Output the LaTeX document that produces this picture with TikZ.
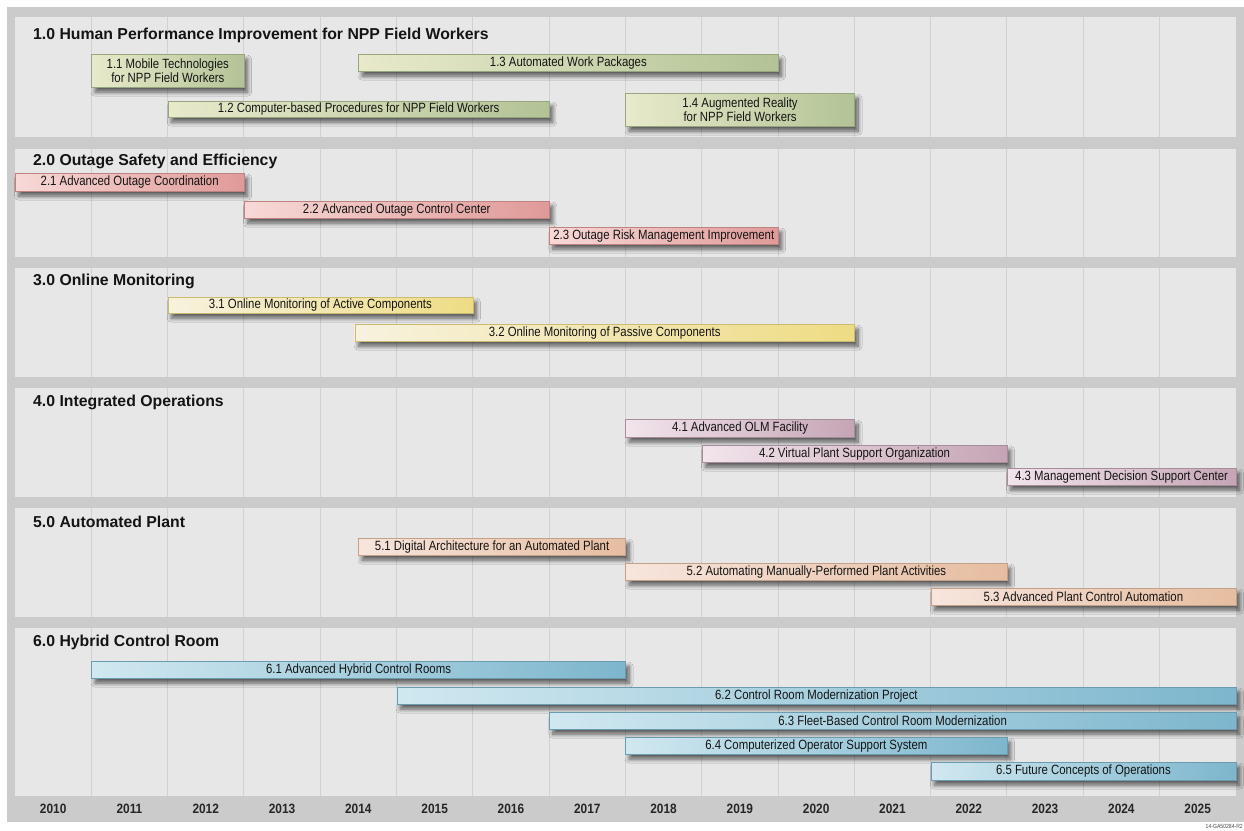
\documentclass[tikz,border=0pt]{standalone}
\usepackage{fontspec}
\setmainfont{Liberation Sans}
\newfontfamily\narrowf[FakeStretch=0.85]{Liberation Sans}
\newfontfamily\narrowbf[FakeStretch=0.88]{Liberation Sans Bold}
\usetikzlibrary{shadows.blur}
\definecolor{outergray}{HTML}{CBCBCB}
\definecolor{panelgray}{HTML}{E7E7E7}
\definecolor{gridgray}{HTML}{D1D1D1}
\definecolor{gL}{HTML}{E8EACB}
\definecolor{gR}{HTML}{B3C396}
\definecolor{pL}{HTML}{F7D9D7}
\definecolor{pR}{HTML}{DF9A98}
\definecolor{yL}{HTML}{F7F2DF}
\definecolor{yR}{HTML}{EEDC84}
\definecolor{vL}{HTML}{F2E4EC}
\definecolor{vR}{HTML}{C5A5B5}
\definecolor{oL}{HTML}{F7E5DD}
\definecolor{oR}{HTML}{E6BDA0}
\definecolor{bL}{HTML}{D0E8F0}
\definecolor{bR}{HTML}{7DB6CD}
\tikzset{
  tbar/.style={inner sep=0pt, line width=0.4pt, text=black!92,
    font=\narrowf\fontsize{13.4}{13.8}\selectfont, align=center,
    blur shadow={shadow xshift=3.5pt, shadow yshift=-5pt, shadow blur steps=10, shadow blur radius=4pt, shadow opacity=60}},
  gbar/.style={tbar, left color=gL, right color=gR, draw=gR!85!black},
  pbar/.style={tbar, left color=pL, right color=pR, draw=pR!85!black},
  ybar/.style={tbar, left color=yL, right color=yR, draw=yR!85!black},
  vbar/.style={tbar, left color=vL, right color=vR, draw=vR!85!black},
  obar/.style={tbar, left color=oL, right color=oR, draw=oR!85!black},
  bbar/.style={tbar, left color=bL, right color=bR, draw=bR!85!black},
  title/.style={anchor=west, inner sep=0pt, font=\bfseries\fontsize{15.8}{17}\selectfont, text=black!92},
  yearlbl/.style={inner sep=0pt, font=\narrowbf\fontsize{13.5}{14}\selectfont, text=black!85},
  gridline/.style={draw=gridgray, line width=0.9pt}
}
% name, t1, t2, ytop, ybot, style, text
\newcommand\tbaritem[7]{%
  \node[#6, anchor=north west, minimum width={(#3-#2)*76.3pt}, minimum height={(#5-#4)*1pt}]
    (#1) at ({15+76.3*#2},#4) {#7};}
\begin{document}
\begin{tikzpicture}[x=1pt,y=-1pt]
\useasboundingbox (0,0) rectangle (1244,830);
\fill[white] (0,0) rectangle (1244,830);
\fill[outergray] (7,7) rectangle (1244,822);
\foreach \a/\b in {17/137,149/257,268/377,388/497,508/617,628/796} {
  \fill[panelgray] (15,\a) rectangle (1236,\b);
  \foreach \k in {1,...,15} \draw[gridline] ({15+76.3*\k},\a) -- ({15+76.3*\k},\b);
}
% titles
\node[title] (t1) at (33,35) {1.0 Human Performance Improvement for NPP Field Workers};
\node[title] (t2) at (33,161) {2.0 Outage Safety and Efficiency};
\node[title] (t3) at (33,281) {3.0 Online Monitoring};
\node[title] (t4) at (33,402) {4.0 Integrated Operations};
\node[title] (t5) at (33,522) {5.0 Automated Plant};
\node[title] (t6) at (33,642) {6.0 Hybrid Control Room};
% group 1
\tbaritem{b11}{1}{3}{54}{87}{gbar}{1.1 Mobile Technologies\\for NPP Field Workers}
\tbaritem{b13}{4.5}{10}{54}{71}{gbar}{1.3 Automated Work Packages}
\tbaritem{b12}{2}{7}{101}{117}{gbar}{1.2 Computer-based Procedures for NPP Field Workers}
\tbaritem{b14}{8}{11}{93}{126}{gbar}{1.4 Augmented Reality\\for NPP Field Workers}
% group 2
\tbaritem{b21}{0}{3}{173}{191}{pbar}{2.1 Advanced Outage Coordination}
\tbaritem{b22}{3}{7}{201}{218}{pbar}{2.2 Advanced Outage Control Center}
\tbaritem{b23}{7}{10}{227}{244}{pbar}{2.3 Outage Risk Management Improvement}
% group 3
\tbaritem{b31}{2}{6}{297}{313}{ybar}{3.1 Online Monitoring of Active Components}
\tbaritem{b32}{4.45}{11}{324}{341}{ybar}{3.2 Online Monitoring of Passive Components}
% group 4
\tbaritem{b41}{8}{11}{419}{437}{vbar}{4.1 Advanced OLM Facility}
\tbaritem{b42}{9}{13}{445}{462}{vbar}{4.2 Virtual Plant Support Organization}
\tbaritem{b43}{13}{16}{468}{485}{vbar}{4.3 Management Decision Support Center}
% group 5
\tbaritem{b51}{4.5}{8}{538}{555}{obar}{5.1 Digital Architecture for an Automated Plant}
\tbaritem{b52}{8}{13}{563}{580}{obar}{5.2 Automating Manually-Performed Plant Activities}
\tbaritem{b53}{12}{16}{588}{605}{obar}{5.3 Advanced Plant Control Automation}
% group 6
\tbaritem{b61}{1}{8}{661}{678}{bbar}{6.1 Advanced Hybrid Control Rooms}
\tbaritem{b62}{5}{16}{687}{704}{bbar}{6.2 Control Room Modernization Project}
\tbaritem{b63}{7}{16}{712}{729}{bbar}{6.3 Fleet-Based Control Room Modernization}
\tbaritem{b64}{8}{13}{737}{754}{bbar}{6.4 Computerized Operator Support System}
\tbaritem{b65}{12}{16}{762}{780}{bbar}{6.5 Future Concepts of Operations}
% years
\foreach \yr [count=\i from 0] in {2010,...,2025}
  \node[yearlbl] (y\yr) at ({15+76.3*(\i+0.5)},809) {\yr};
\node[anchor=east, inner sep=0pt, font=\narrowf\fontsize{6}{7}\selectfont, text=black!70] (code) at (1243,826) {14-GA50284-R2};
\end{tikzpicture}
\end{document}
